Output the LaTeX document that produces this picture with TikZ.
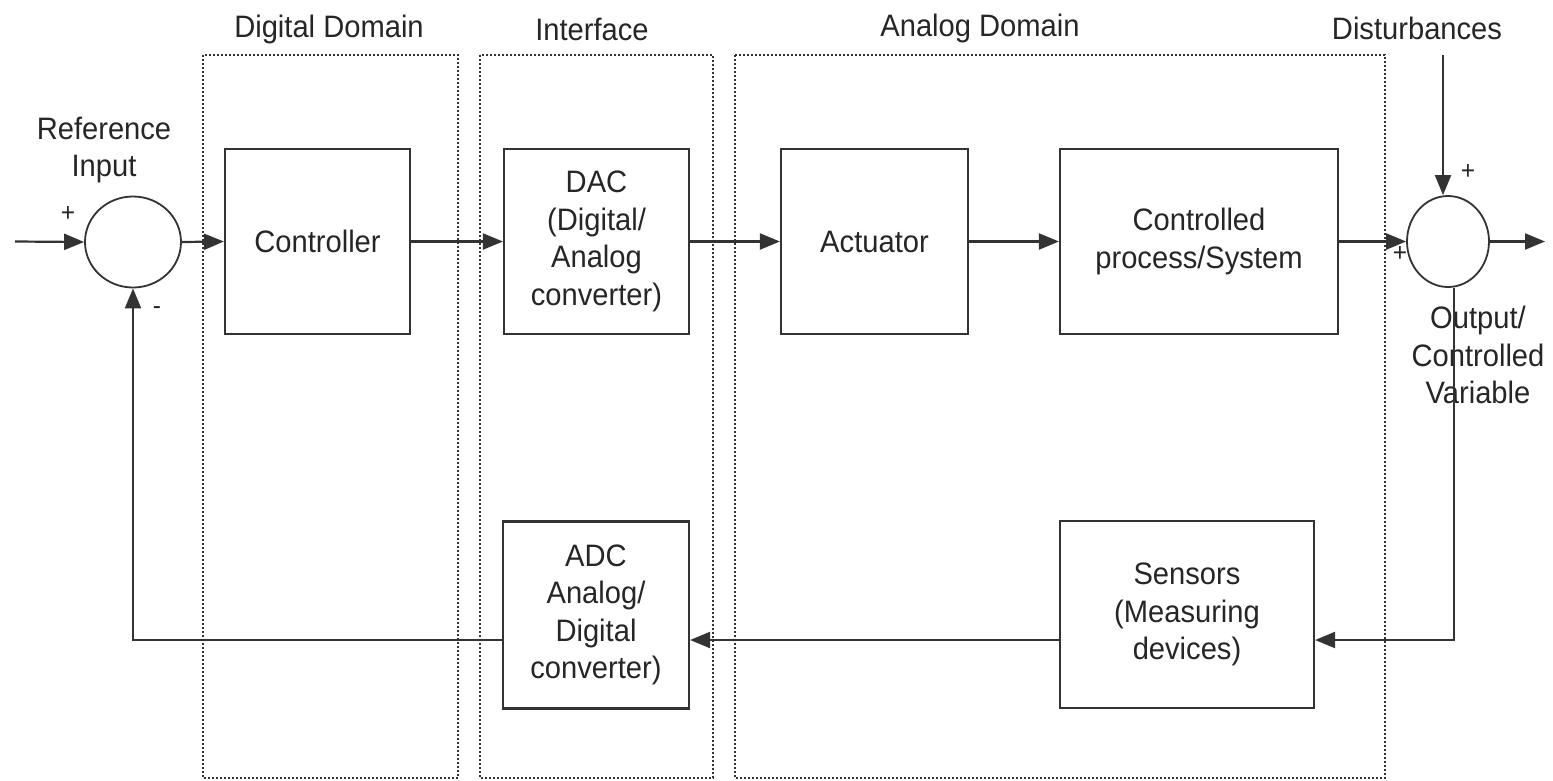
\documentclass[tikz,border=0pt]{standalone}
\usepackage{fontspec}
\setmainfont[FakeStretch=0.94]{Liberation Sans}
\usetikzlibrary{arrows.meta,shapes.geometric}
\begin{document}
\begin{tikzpicture}[x=1pt,y=-1pt,
  txt/.style={font=\fontsize{31}{37.5}\selectfont, align=center, text=black!85, inner sep=0pt},
  sgn/.style={font=\fontsize{26}{26}\selectfont, text=black!85, inner sep=0pt},
  blk/.style={draw=black!80, line width=2.2pt, rectangle, inner sep=0pt, font=\fontsize{31}{37.5}\selectfont, align=center, text=black!85},
  sumj/.style={draw=black!80, line width=1.8pt, ellipse, inner sep=0pt},
  dom/.style={draw=black!80, line width=2pt, dash pattern=on 2pt off 2pt},
  arr/.style={draw=black!80, line width=2.2pt, -{Triangle[length=20pt,width=16pt]}},
  ln/.style={draw=black!80, line width=2.2pt}]
\useasboundingbox (0,0) rectangle (1553,780);
\fill[white] (0,0) rectangle (1553,780);

% domain frames
\draw[dom] (203,55) rectangle (458,778);
\draw[dom] (480,55) rectangle (713,778);
\draw[dom] (735,55) rectangle (1385,778);
\node[txt] (ldig) at (329,29) {Digital Domain};
\node[txt] (lint) at (592,29) {Interface};
\node[txt] (lana) at (980,28) {Analog Domain};
\node[txt] (ldis) at (1417,28) {Disturbances};

% blocks
\node[blk, minimum width=185pt, minimum height=185pt] (ctrl) at (317.5,241.5) {Controller};
\node[blk, minimum width=185pt, minimum height=185pt] (dac) at (596.5,241.5) {DAC\\(Digital/\\Analog\\converter)};
\node[blk, minimum width=187pt, minimum height=185pt] (act) at (874.5,241.5) {Actuator};
\node[blk, minimum width=278pt, minimum height=185pt] (proc) at (1199,241.5) {Controlled\\process/System};
\node[blk, minimum width=186pt, minimum height=187pt] (adc) at (596,615) {ADC\\Analog/\\Digital\\converter)};
\node[blk, minimum width=254pt, minimum height=187pt] (sens) at (1187,614.5) {Sensors\\(Measuring\\devices)};

% summing junctions
\node[sumj, minimum width=96pt, minimum height=91pt] (sum1) at (133,242) {};
\node[sumj, minimum width=82pt, minimum height=91pt] (sum2) at (1448,241.5) {};

% labels
\node[txt] (lref) at (104,150) {Reference\\Input};
\node[txt] (lout) at (1478,355) {Output/\\Controlled\\Variable};
\node[sgn] (p1) at (68,214) {+};
\node[sgn] (m1) at (157,311) {-};
\node[sgn] (p2) at (1468,172) {+};
\node[sgn] (p3) at (1400,254) {+};

% coordinates
\coordinate (inp) at (15,241.5);
\coordinate (outp) at (1545,241.5);
\coordinate (dist) at (1443,55);
\coordinate (fbR) at (1454,640);
\coordinate (fbL) at (133,640);

% forward path
\draw[arr] (inp) -- (sum1.west);
\draw[arr] (sum1.east) -- (ctrl.west);
\draw[arr] (ctrl.east) -- (dac.west);
\draw[arr] (dac.east) -- (act.west);
\draw[arr] (act.east) -- (proc.west);
\draw[arr] (proc.east) -- (sum2.west);
\draw[arr] (sum2.east) -- (outp);
\draw[arr] (dist) -- (dist |- sum2.north);

% feedback path
\draw[arr] ([xshift=6pt]sum2.south) -- (fbR) -- (sens.east |- fbR);
\draw[arr] (sens.west |- fbR) -- (adc.east |- fbR);
\draw[arr] (adc.west |- fbR) -- (fbL) -- (sum1.south);
\end{tikzpicture}
\end{document}
